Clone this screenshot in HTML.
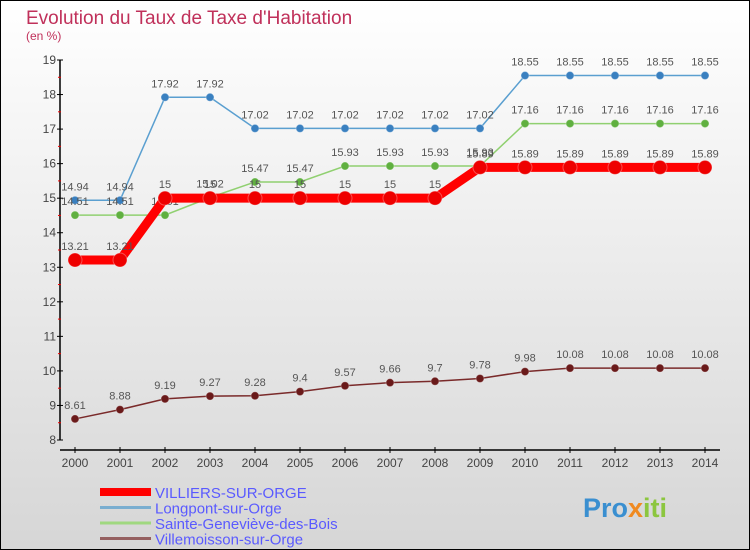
<!DOCTYPE html>
<html><head><meta charset="utf-8"><style>
body{margin:0}
svg{display:block;font-family:"Liberation Sans",sans-serif}
</style></head><body>
<svg id="c" width="750" height="550" viewBox="0 0 750 550">
<defs><linearGradient id="bg" x1="0" y1="0" x2="0" y2="1"><stop offset="0" stop-color="#ffffff"/><stop offset="1" stop-color="#d6d6d6"/></linearGradient></defs>
<rect x="0.5" y="0.5" width="749" height="549" fill="url(#bg)" stroke="#000"/>
<text x="26" y="24" font-size="19" fill="#c0305a">Evolution du Taux de Taxe d'Habitation</text>
<text x="26" y="40" font-size="12" fill="#c0305a">(en %)</text>
<g id="axes"></g><g id="series"></g><g id="legend"></g>
<text x="583" y="517" font-size="27" font-weight="bold" fill="#3a8fd0">Pro<tspan fill="#f08a20">x</tspan><tspan fill="#8cc63f">iti</tspan></text>
</svg>
<script>
const years=[2000,2001,2002,2003,2004,2005,2006,2007,2008,2009,2010,2011,2012,2013,2014];
const yTicks=[8,9,10,11,12,13,14,15,16,17,18,19];
const villiers=[13.21,13.21,15,15,15,15,15,15,15,15.89,15.89,15.89,15.89,15.89,15.89];
const longpont=[14.94,14.94,17.92,17.92,17.02,17.02,17.02,17.02,17.02,17.02,18.55,18.55,18.55,18.55,18.55];
const sainte=[14.51,14.51,14.51,15.02,15.47,15.47,15.93,15.93,15.93,15.93,17.16,17.16,17.16,17.16,17.16];
const villemoisson=[8.61,8.88,9.19,9.27,9.28,9.4,9.57,9.66,9.7,9.78,9.98,10.08,10.08,10.08,10.08];
const names=["VILLIERS-SUR-ORGE","Longpont-sur-Orge","Sainte-Geneviève-des-Bois","Villemoisson-sur-Orge"];
const NS="http://www.w3.org/2000/svg";
const X=i=>75+i*45, Y=v=>440-(v-8)*(380/11);
function mk(p,t,a){const e=document.createElementNS(NS,t);for(const k in a)e.setAttribute(k,a[k]);p.appendChild(e);return e;}
const ax=document.getElementById('axes');
let e=mk(ax,'line',{x1:60,y1:Y(19),x2:60,y2:440,stroke:'#000','stroke-width':1.5});


e=mk(ax,'line',{x1:60,y1:450,x2:720,y2:450,stroke:'#000','stroke-width':1.5});


yTicks.forEach(v=>{
 mk(ax,'line',{x1:57,x2:63,y1:Y(v),y2:Y(v),stroke:'#000'});
 if(v<19)mk(ax,'line',{x1:58,x2:61,y1:Y(v+0.5),y2:Y(v+0.5),stroke:'#e00'});
 const t=mk(ax,'text',{x:56,y:Y(v)+4,'font-size':12,'text-anchor':'end',fill:'#444'});t.textContent=v;
 
 
});
years.forEach((y,i)=>{
 mk(ax,'line',{x1:X(i),x2:X(i),y1:447,y2:453,stroke:'#000'});
 const t=mk(ax,'text',{x:X(i),y:467,'font-size':12,'text-anchor':'middle',fill:'#444'});t.textContent=y;
 
 
});
const sg=document.getElementById('series');
const defs=[[villemoisson,'#7a2a2a','#6a1a1a',1.5,4,'villemoisson'],[longpont,'#5a9fd0','#3a80c0',1.5,4,'longpont'],[sainte,'#90d070','#60b040',1.5,4,'sainte'],[villiers,'#ff0000','#ee0000',9,7,'villiers']];
defs.forEach(([d,c,mc,w,r,n])=>{
 const g=mk(sg,'g',{});
 
 
 const l=mk(g,'polyline',{points:d.map((v,i)=>X(i)+','+Y(v)).join(' '),fill:'none',stroke:c,'stroke-width':w});
 
 
 d.forEach((v,i)=>{
  const p=mk(g,'circle',{cx:X(i),cy:Y(v),r:r,fill:mc,stroke:'#fff','stroke-opacity':0.3});
  
  
  const t=mk(g,'text',{x:X(i),y:Y(v)-10,'font-size':11,'text-anchor':'middle',fill:'#555'});t.textContent=v;
  
  
 });
});
const lg=document.getElementById('legend');
const lc=['#ff0000','#7aaed0','#a0d880','#956060'],lw=[8,3,3,3];
names.forEach((n,i)=>{
 const y=492+i*15.5;
 const g=mk(lg,'g',{});
 
 
 mk(g,'line',{x1:100,x2:151,y1:y,y2:y,stroke:lc[i],'stroke-width':lw[i]});
 const t=mk(g,'text',{x:155,y:y+6,'font-size':15,fill:'#5a5aff'});t.textContent=n;
});
</script>
</body></html>
